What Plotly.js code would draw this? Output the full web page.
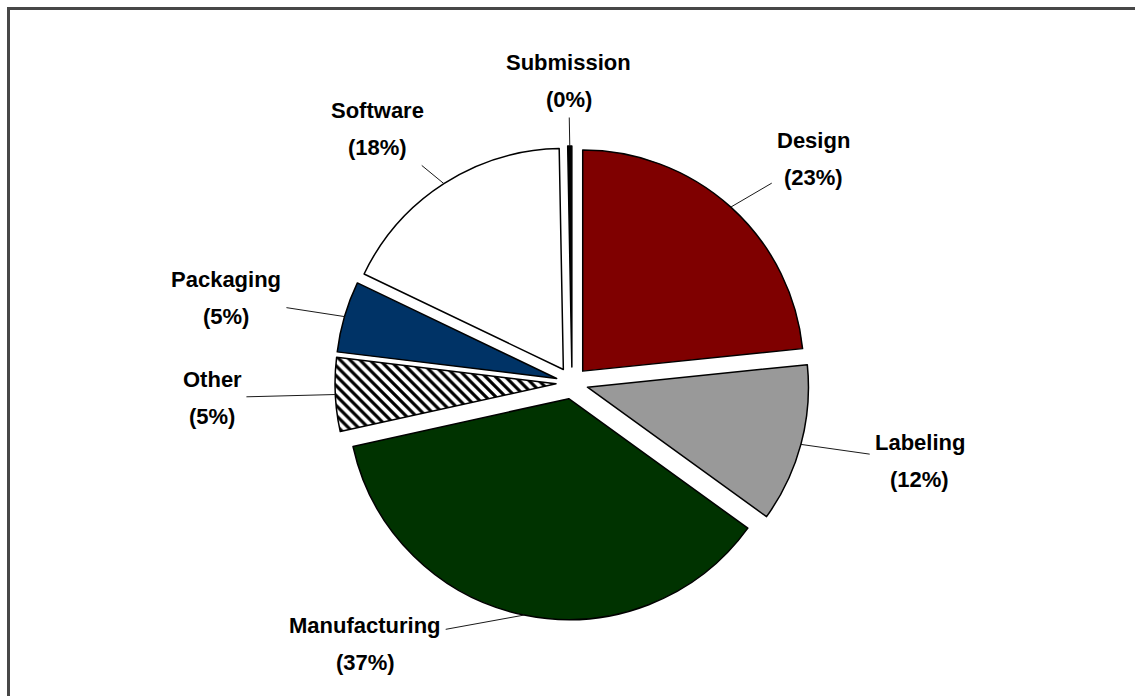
<!DOCTYPE html>
<html><head><meta charset="utf-8">
<script src="https://cdn.plot.ly/plotly-3.0.1.min.js"></script>
<style>
html,body{margin:0;padding:0;background:#fff;overflow:hidden;width:1135px;height:696px;}
#chart{position:absolute;left:0;top:0;width:1135px;height:696px;}
#frame{position:absolute;left:7px;top:7px;width:1400px;height:1000px;border-top:3px solid #474747;border-left:3px solid #474747;box-sizing:border-box;pointer-events:none;}
</style></head><body>
<div id="chart"></div><div id="frame"></div>
<script>
// ---- data ----
const categories = ['Design', 'Labeling', 'Manufacturing', 'Other', 'Packaging', 'Software', 'Submission'];
const shares = [23.4, 11.6, 36.6, 5.4, 5.2, 17.6, 0.3];
const sliceColors = ['#7f0000', '#999999', '#003300', '#ffffff', '#003366', '#ffffff', '#000000'];
const slicePatterns = ['', '', '', '\\', '', '', ''];

// ---- layout ----
const W = 1135, H = 696;
const M = {l: 100, r: 91, t: 146, b: 76};
const pull = 0.0724;
const plotW = W - M.l - M.r, plotH = H - M.t - M.b;
const cx = M.l + plotW / 2, cy = M.t + plotH / 2;
const R = Math.min(plotW, plotH) / 2 / (1 + pull);
const edgeR = R * (1 + pull);
const labRX = 360, labRY = 302, labMaxDown = 261, labClampR = 333;
const FONT = 'Liberation Sans, Arial, sans-serif';
const FSIZE = 22;

const total = shares.reduce((a, b) => a + b, 0);
const toX = px => (px - M.l) / plotW;
const toY = py => 1 - (py - M.t) / plotH;

const ctx = document.createElement('canvas').getContext('2d');
ctx.font = 'bold ' + FSIZE + 'px "Liberation Sans", Arial, sans-serif';

const annotations = [];
let cum = 0;
shares.forEach((v, i) => {
  const mid = (cum + v / 2) / total * 2 * Math.PI;
  cum += v;
  const s = Math.sin(mid), c = Math.cos(mid);
  const tx = cx + edgeR * s, ty = cy - edgeR * c;
  let lx = cx + labRX * s, ly = cy - labRY * c;
  if (ly - cy > labMaxDown) {
    ly = cy + labMaxDown;
    lx = cx + Math.sign(s) * Math.sqrt(labClampR * labClampR - labMaxDown * labMaxDown);
  }
  const pct = '(' + Math.round(v / total * 100) + '%)';
  const boxW = Math.ceil(ctx.measureText(categories[i]).width) + 6;
  // leader line (text-less box the size of the label)
  annotations.push({
    xref: 'paper', yref: 'paper', x: toX(tx), y: toY(ty),
    axref: 'pixel', ayref: 'pixel', ax: lx - tx, ay: ly - ty,
    text: ' ', width: boxW, height: 70,
    font: {family: FONT, size: FSIZE, color: 'rgba(0,0,0,0)'},
    showarrow: true, arrowhead: 0, arrowwidth: 1, arrowcolor: '#1a1a1a', standoff: 0
  });
  annotations.push({
    xref: 'paper', yref: 'paper', x: toX(lx), y: toY(ly), yshift: 18.5,
    text: '<b>' + categories[i] + '</b>', showarrow: false,
    xanchor: 'center', yanchor: 'middle',
    font: {family: FONT, size: FSIZE, color: '#000'}
  });
  annotations.push({
    xref: 'paper', yref: 'paper', x: toX(lx), y: toY(ly), yshift: -18.5,
    text: '<b>' + pct + '</b>', showarrow: false,
    xanchor: 'center', yanchor: 'middle',
    font: {family: FONT, size: FSIZE, color: '#000'}
  });
});

const trace = {
  type: 'pie',
  labels: categories,
  values: shares,
  sort: false,
  direction: 'clockwise',
  rotation: 0,
  pull: categories.map(() => pull),
  textinfo: 'none',
  hoverinfo: 'skip',
  showlegend: false,
  marker: {
    colors: sliceColors,
    line: {color: '#000000', width: 1.5},
    pattern: {
      shape: slicePatterns,
      fgcolor: '#000000',
      bgcolor: '#ffffff',
      size: 7,
      solidity: 0.45,
      fillmode: 'replace'
    }
  }
};

const layout = {
  width: W, height: H,
  margin: M,
  paper_bgcolor: '#ffffff',
  plot_bgcolor: '#ffffff',
  showlegend: false,
  font: {family: FONT},
  annotations: annotations
};

Plotly.newPlot('chart', [trace], layout, {staticPlot: true, displayModeBar: false});
</script>
</body></html>
